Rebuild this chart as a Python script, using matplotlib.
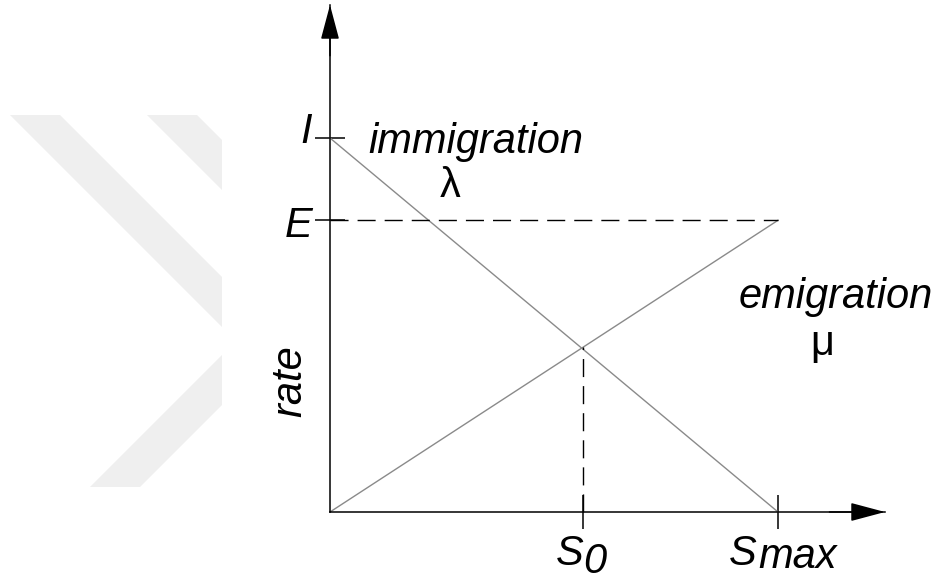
import matplotlib
matplotlib.use('Agg')
import matplotlib.pyplot as plt
from matplotlib.patches import Polygon

# Model values (rate normalised to I = 1, species to Smax = 1)
I_rate = 1.0
E_rate = 0.78
S_max = 1.0
S_0 = 0.565
rate_at_S0 = 0.44

immigration_S = [0.0, S_max]
immigration_rate = [I_rate, 0.0]
emigration_S = [0.0, S_max]
emigration_rate = [0.0, E_rate]

FONT = 'Liberation Sans'
FS = 30

fig = plt.figure(figsize=(9.4, 5.81), dpi=100)

# faint watermark in the background (pixel coordinates)
bg = fig.add_axes([0, 0, 1, 1])
bg.set_xlim(0, 940)
bg.set_ylim(581, 0)
bg.axis('off')
watermark = [
    [(10, 115), (60, 115), (222, 277), (222, 327)],
    [(90, 487), (222, 355), (222, 405), (140, 487)],
    [(147, 115), (197, 115), (222, 140), (222, 190)],
]
for pts in watermark:
    bg.add_patch(Polygon(pts, closed=True, color='#efefef', lw=0))

# main axes: origin at (330, 512) px, 448 px per S unit, 374 px per rate unit
ax = fig.add_axes([330 / 940, (581 - 512) / 581, 555 / 940, 507 / 581])
ax.patch.set_alpha(0)
ax.set_xlim(0, 555 / 448)
ax.set_ylim(0, 507 / 374)

for side in ['top', 'right']:
    ax.spines[side].set_visible(False)
for side in ['left', 'bottom']:
    ax.spines[side].set_linewidth(1.1)
    ax.spines[side].set_color('black')

ax.set_xticks([S_0, S_max])
ax.set_yticks([E_rate, I_rate])
ax.set_xticklabels(['', ''])
ax.set_yticklabels(['', ''])
ax.tick_params(axis='x', direction='inout', length=24, width=1.1, color='black')
ax.tick_params(axis='y', direction='inout', length=22, width=1.1, color='black')

# arrow heads on the axes
arrow = dict(arrowstyle='-|>,head_length=1.5,head_width=0.4', mutation_scale=14.4,
             color='black', lw=1.1, shrinkA=0, shrinkB=0)
ax.annotate('', xy=(1, 0), xycoords='axes fraction', xytext=(0.9, 0),
            arrowprops=arrow, annotation_clip=False)
ax.annotate('', xy=(0, 1), xycoords='axes fraction', xytext=(0, 0.9),
            arrowprops=arrow, annotation_clip=False)

# immigration and emigration curves
ax.plot(immigration_S, immigration_rate, color='#8a8a8a', lw=1.0, clip_on=False)
ax.plot(emigration_S, emigration_rate, color='#8a8a8a', lw=1.0, clip_on=False)

# dashed guides
ax.plot([0, S_max], [E_rate, E_rate], color='black', lw=1.0,
        linestyle=(0, (13, 6.5)), clip_on=False)
ax.plot([S_0, S_0], [0, rate_at_S0], color='black', lw=1.0,
        linestyle=(0, (13, 6.5)), clip_on=False)

def label(txt, xy, dx, dy, ha='center', style='italic', rot=0, va='baseline'):
    ax.annotate(txt, xy=xy, xytext=(dx, dy), textcoords='offset pixels',
                ha=ha, va=va, fontsize=FS, family=FONT, style=style,
                rotation=rot, annotation_clip=False)

label('I', (0, I_rate), -18, -5, ha='right')
label('E', (0, E_rate), -18, -17, ha='right')
label('S', (S_0, 0), 0, -53, ha='right')
label('0', (S_0, 0), 0, -61, ha='left')
label('S', (S_max, 0), -21, -53, ha='right')
label('max', (S_max, 0), -20, -56, ha='left')
label('immigration', (0, I_rate), 146, -15)
label('λ', (0, I_rate), 120, -59, style='normal')
label('emigration', (S_max, E_rate), 58, -88)
label('μ', (S_max, E_rate), 44, -135, style='normal')
label('rate', (0, 0), -40, 131, rot=90, va='center')

fig.savefig('out.png', dpi=100)
